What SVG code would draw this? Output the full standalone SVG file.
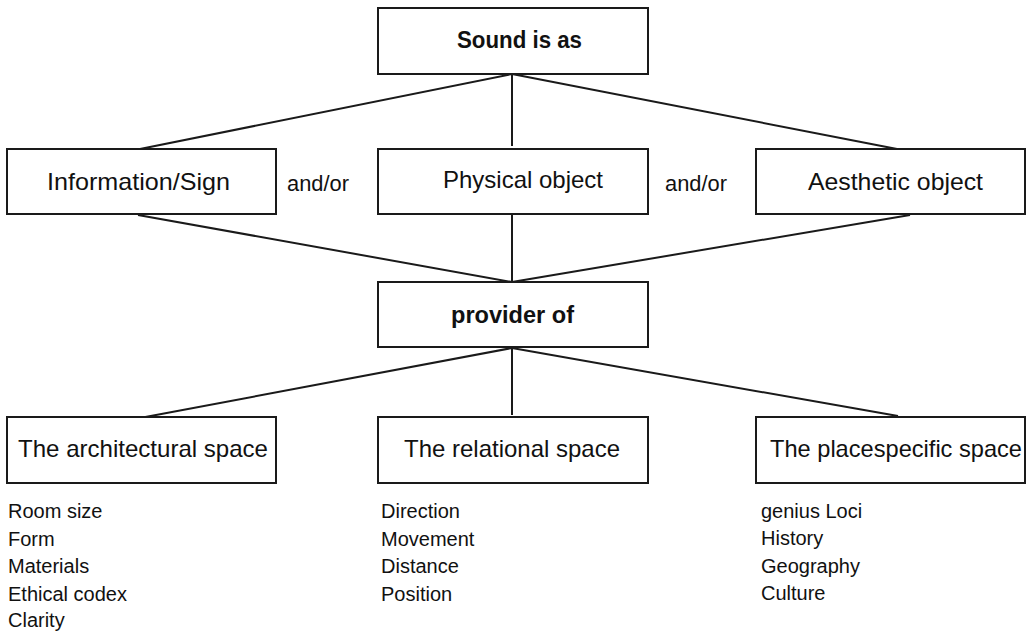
<svg xmlns="http://www.w3.org/2000/svg" width="1029" height="631" viewBox="0 0 1029 631">
<style>
.box{fill:#fff;stroke:#1a1a1a;stroke-width:2}
.lbl{font-family:"Liberation Sans",Arial,sans-serif;font-size:24px;fill:#111}
.bold{font-weight:bold;font-size:23px}
.andor{font-family:"Liberation Sans",Arial,sans-serif;font-size:22px;fill:#111}
.list{font-family:"Liberation Sans",Arial,sans-serif;font-size:20px;fill:#111}
.conn line{stroke:#1a1a1a;stroke-width:2;fill:none}
</style>
<rect width="1029" height="631" fill="#fff"/>
<g id="connectors" class="conn">
<line x1="512" y1="74" x2="140" y2="149"/>
<line x1="512" y1="74" x2="512" y2="146"/>
<line x1="512" y1="74" x2="897" y2="149"/>
<line x1="138" y1="215" x2="512" y2="282"/>
<line x1="512" y1="215" x2="512" y2="282"/>
<line x1="910" y1="215" x2="512" y2="282"/>
<line x1="512" y1="348" x2="140" y2="418"/>
<line x1="512" y1="348" x2="512" y2="415"/>
<line x1="512" y1="348" x2="898" y2="416"/>
</g>
<g id="sound">
<rect class="box" x="378" y="8" width="270" height="66"/>
<text class="lbl bold" x="457" y="48" textLength="125" lengthAdjust="spacingAndGlyphs">Sound is as</text>
</g>
<g id="info">
<rect class="box" x="7" y="149" width="269" height="65"/>
<text class="lbl" x="47" y="190" textLength="183" lengthAdjust="spacingAndGlyphs">Information/Sign</text>
</g>
<g id="andor1"><text class="andor" x="287" y="191" textLength="62" lengthAdjust="spacingAndGlyphs">and/or</text></g>
<g id="physical">
<rect class="box" x="378" y="149" width="270" height="65"/>
<text class="lbl" x="443" y="188" textLength="160" lengthAdjust="spacingAndGlyphs">Physical object</text>
</g>
<g id="andor2"><text class="andor" x="665" y="191" textLength="62" lengthAdjust="spacingAndGlyphs">and/or</text></g>
<g id="aesthetic">
<rect class="box" x="756" y="149" width="269" height="65"/>
<text class="lbl" x="808" y="190" textLength="175" lengthAdjust="spacingAndGlyphs">Aesthetic object</text>
</g>
<g id="provider">
<rect class="box" x="378" y="282" width="270" height="65"/>
<text class="lbl bold" x="451" y="323" textLength="123" lengthAdjust="spacingAndGlyphs">provider of</text>
</g>
<g id="architectural">
<rect class="box" x="7" y="417" width="269" height="66"/>
<text class="lbl" x="18" y="457" textLength="250" lengthAdjust="spacingAndGlyphs">The architectural space</text>
</g>
<g id="relational">
<rect class="box" x="378" y="417" width="270" height="66"/>
<text class="lbl" x="404" y="457" textLength="216" lengthAdjust="spacingAndGlyphs">The relational space</text>
</g>
<g id="placespecific">
<rect class="box" x="756" y="417" width="269" height="66"/>
<text class="lbl" x="770" y="457" textLength="252" lengthAdjust="spacingAndGlyphs">The placespecific space</text>
</g>
<g id="list-architectural" class="list">
<text class="list" x="8" y="518">Room size</text>
<text class="list" x="8" y="546">Form</text>
<text class="list" x="8" y="573">Materials</text>
<text class="list" x="8" y="601">Ethical codex</text>
<text class="list" x="8" y="627">Clarity</text>
</g>
<g id="list-relational">
<text class="list" x="381" y="518">Direction</text>
<text class="list" x="381" y="546">Movement</text>
<text class="list" x="381" y="573">Distance</text>
<text class="list" x="381" y="601">Position</text>
</g>
<g id="list-placespecific">
<text class="list" x="761" y="518">genius Loci</text>
<text class="list" x="761" y="545">History</text>
<text class="list" x="761" y="573">Geography</text>
<text class="list" x="761" y="600">Culture</text>
</g>
</svg>
